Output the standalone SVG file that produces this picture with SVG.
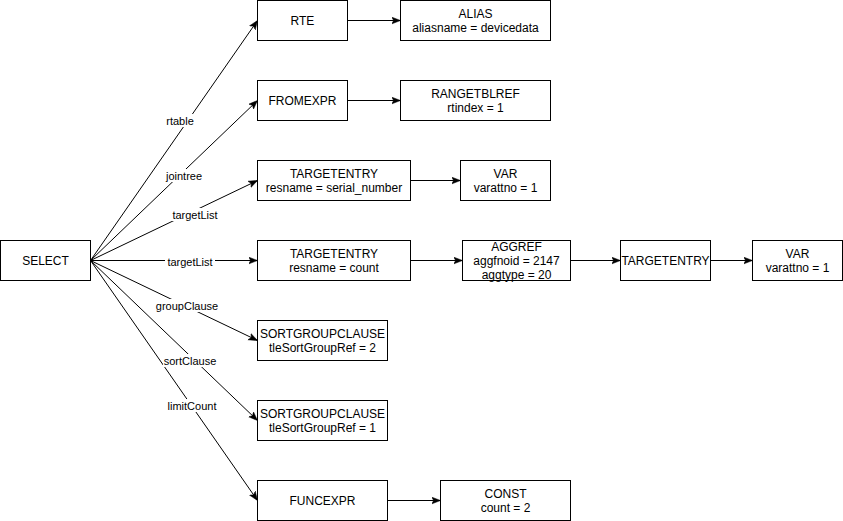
<svg xmlns="http://www.w3.org/2000/svg" width="843" height="521" viewBox="0 0 843 521">
<style>
.n{fill:#fff;stroke:#000;stroke-width:1}
.t{font-family:"Liberation Sans",Arial,sans-serif;font-size:12px;fill:#000;text-anchor:middle}
.l{font-family:"Liberation Sans",Arial,sans-serif;font-size:11px;fill:#000;text-anchor:middle}
.e{fill:none;stroke:#000;stroke-width:1;marker-end:url(#a)}
.bg{fill:#fff}
</style>
<defs>
<marker id="a" markerUnits="userSpaceOnUse" markerWidth="10" markerHeight="10" refX="9" refY="4" orient="auto">
<path d="M0,0.5 L9,4 L0,7.5 L2.2,4 Z" fill="#000" stroke="#000" stroke-width="0.5"/>
</marker>
</defs>
<rect width="843" height="521" fill="#fff"/>
<g id="connectors">
<path class="e" d="M90.5,260.5 L257.5,20.5"/>
<path class="e" d="M90.5,260.5 L257.5,100.5"/>
<path class="e" d="M90.5,260.5 L257.5,180.5"/>
<path class="e" d="M90.5,260.5 L257.5,260.5"/>
<path class="e" d="M90.5,260.5 L257.5,340.5"/>
<path class="e" d="M90.5,260.5 L257.5,420.5"/>
<path class="e" d="M90.5,260.5 L257.5,500.5"/>
<path class="e" d="M347.5,20.5 L400.5,20.5"/>
<path class="e" d="M347.5,100.5 L400.5,100.5"/>
<path class="e" d="M410.5,180.5 L460.5,180.5"/>
<path class="e" d="M410.5,260.5 L462.5,260.5"/>
<path class="e" d="M570.5,260.5 L620.5,260.5"/>
<path class="e" d="M710.5,260.5 L752.5,260.5"/>
<path class="e" d="M387.5,500.5 L440.5,500.5"/>
<rect class="bg" x="164" y="114" width="32" height="13"/>
<text class="l" x="180" y="125">rtable</text>
<rect class="bg" x="164" y="169" width="40" height="13"/>
<text class="l" x="184" y="180">jointree</text>
<rect class="bg" x="170" y="208" width="50" height="13"/>
<text class="l" x="195" y="219">targetList</text>
<rect class="bg" x="165" y="255" width="50" height="13"/>
<text class="l" x="190" y="266">targetList</text>
<rect class="bg" x="155" y="299" width="64" height="13"/>
<text class="l" x="187" y="310">groupClause</text>
<rect class="bg" x="163" y="354" width="54" height="13"/>
<text class="l" x="190" y="365">sortClause</text>
<rect class="bg" x="166" y="399" width="52" height="13"/>
<text class="l" x="192" y="410">limitCount</text>
</g>
<g id="select"><rect class="n" x="0.5" y="240.5" width="90" height="40"/><text class="t" x="45.5" y="265">SELECT</text></g>
<g id="rte"><rect class="n" x="257.5" y="0.5" width="90" height="40"/><text class="t" x="302.5" y="25">RTE</text></g>
<g id="alias"><rect class="n" x="400.5" y="0.5" width="150" height="40"/><text class="t" x="475.5" y="18">ALIAS</text><text class="t" x="475.5" y="32">aliasname = devicedata</text></g>
<g id="fromexpr"><rect class="n" x="257.5" y="80.5" width="90" height="40"/><text class="t" x="302.5" y="105">FROMEXPR</text></g>
<g id="rangetblref"><rect class="n" x="400.5" y="80.5" width="150" height="40"/><text class="t" x="475.5" y="98">RANGETBLREF</text><text class="t" x="475.5" y="112">rtindex = 1</text></g>
<g id="targetentry1"><rect class="n" x="257.5" y="160.5" width="153" height="40"/><text class="t" x="334" y="178">TARGETENTRY</text><text class="t" x="334" y="192">resname = serial_number</text></g>
<g id="var1"><rect class="n" x="460.5" y="160.5" width="90" height="40"/><text class="t" x="505.5" y="178">VAR</text><text class="t" x="505.5" y="192">varattno = 1</text></g>
<g id="targetentry2"><rect class="n" x="257.5" y="240.5" width="153" height="40"/><text class="t" x="334" y="258">TARGETENTRY</text><text class="t" x="334" y="272">resname = count</text></g>
<g id="aggref"><rect class="n" x="462.5" y="240.5" width="108" height="40"/><text class="t" x="516.5" y="251">AGGREF</text><text class="t" x="516.5" y="265">aggfnoid = 2147</text><text class="t" x="516.5" y="279">aggtype = 20</text></g>
<g id="targetentry3"><rect class="n" x="620.5" y="240.5" width="90" height="40"/><text class="t" x="665.5" y="265">TARGETENTRY</text></g>
<g id="var2"><rect class="n" x="752.5" y="240.5" width="90" height="40"/><text class="t" x="797.5" y="258">VAR</text><text class="t" x="797.5" y="272">varattno = 1</text></g>
<g id="sortgroupclause1"><rect class="n" x="257.5" y="320.5" width="130" height="40"/><text class="t" x="322.5" y="338">SORTGROUPCLAUSE</text><text class="t" x="322.5" y="352">tleSortGroupRef = 2</text></g>
<g id="sortgroupclause2"><rect class="n" x="257.5" y="400.5" width="130" height="40"/><text class="t" x="322.5" y="418">SORTGROUPCLAUSE</text><text class="t" x="322.5" y="432">tleSortGroupRef = 1</text></g>
<g id="funcexpr"><rect class="n" x="257.5" y="480.5" width="130" height="40"/><text class="t" x="322.5" y="505">FUNCEXPR</text></g>
<g id="const"><rect class="n" x="440.5" y="480.5" width="130" height="40"/><text class="t" x="505.5" y="498">CONST</text><text class="t" x="505.5" y="512">count = 2</text></g>
</svg>
